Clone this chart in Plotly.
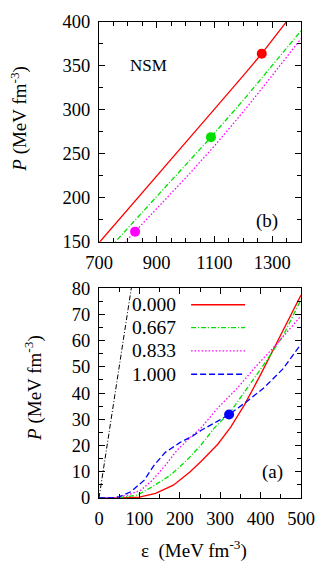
import plotly.graph_objects as go

# ---- data: panel (b) NSM, high density ----
eps_b_red = [690, 800, 900, 1000, 1100, 1200, 1264, 1350, 1400]
p_b_red = [145, 186.5, 224.5, 262.7, 300.8, 339, 364, 400.5, 422]
eps_b_green = [740, 800, 900, 1000, 1088, 1200, 1300, 1400]
p_b_green = [144, 165.5, 201, 237.5, 269, 311, 350, 390]
eps_b_mag = [780, 825, 900, 1000, 1100, 1200, 1300, 1400]
p_b_mag = [146, 161.5, 187, 222.5, 259, 298, 339, 381]
dots_b_eps = [1264, 1088, 825]
dots_b_p = [364, 269, 161.5]
dots_b_col = ["#ff0000", "#00e000", "#ff00ff"]

# ---- data: panel (a) ----
eps_a_red = [0, 50, 100, 140, 184, 225, 253, 294, 326, 360, 400, 447, 500]
p_a_red = [0, 0, 0.3, 1.8, 4.9, 9.9, 14.0, 20.5, 27.0, 35.5, 47.0, 61.0, 77.3]
eps_a_green = [0, 50, 95, 132, 176, 217, 253, 286, 326, 366, 407, 456, 500]
p_a_green = [0, 0.1, 1.1, 4.3, 8.6, 14.3, 20.3, 26.8, 33, 41.8, 50.6, 61.9, 75.6]
eps_a_mag = [0, 40, 71, 104, 132, 164, 192, 225, 253, 294, 342, 391, 439, 500]
p_a_mag = [0, 0.1, 1.1, 3, 6.8, 12.4, 18, 23, 26.8, 34.3, 41.8, 50.6, 58.5, 69.4]
eps_a_blue = [0, 30, 51, 79, 112, 136, 164, 200, 233, 253, 294, 322, 366, 407, 456, 500]
p_a_blue = [0, 0, 0.5, 2.4, 6.8, 12.4, 17.4, 21.1, 23.7, 25.8, 29.3, 31.8, 36.8, 41.8, 49.3, 58.7]
eps_causal = [0, 80]
p_causal = [0, 80]
dot_a_eps = [322]
dot_a_p = [31.8]

legend_labels = ["0.000", "0.667", "0.833", "1.000"]

RED, GREEN, MAG, BLUE = "#ff0000", "#00e000", "#ff00ff", "#0000ff"
FONT = "Liberation Serif"
DASHDOT = "5px,2px,1px,2px"
DOT = "1.5px,2px"
DASH = "6px,3px"

fig = go.Figure()

def line(x, y, color, dash, xa, ya, width=1.3):
    fig.add_trace(go.Scatter(x=x, y=y, mode="lines", xaxis=xa, yaxis=ya,
                             line=dict(color=color, dash=dash, width=width),
                             showlegend=False, hoverinfo="skip"))

# panel (b) -> x1/y1 (top)
line(eps_b_red, p_b_red, RED, "solid", "x", "y")
line(eps_b_green, p_b_green, GREEN, DASHDOT, "x", "y")
line(eps_b_mag, p_b_mag, MAG, DOT, "x", "y")
fig.add_trace(go.Scatter(x=dots_b_eps, y=dots_b_p, mode="markers", xaxis="x", yaxis="y",
                         marker=dict(color=dots_b_col, size=10), showlegend=False,
                         cliponaxis=False))

# panel (a) -> x2/y2 (bottom)
line(eps_causal, p_causal, "black", "5px,2px,1px,2px", "x2", "y2", 1.0)
line(eps_a_red, p_a_red, RED, "solid", "x2", "y2")
line(eps_a_green, p_a_green, GREEN, DASHDOT, "x2", "y2")
line(eps_a_mag, p_a_mag, MAG, DOT, "x2", "y2")
line(eps_a_blue, p_a_blue, BLUE, DASH, "x2", "y2")
fig.add_trace(go.Scatter(x=dot_a_eps, y=dot_a_p, mode="markers", xaxis="x2", yaxis="y2",
                         marker=dict(color=BLUE, size=10), showlegend=False))

axis_common = dict(showline=True, linecolor="black", linewidth=1, mirror="ticks",
                   ticks="inside", ticklen=6, tickcolor="black", showgrid=False,
                   zeroline=False, ticklabelstandoff=4,
                   tickfont=dict(family=FONT, size=18.5, color="black"))

fig.update_layout(
    width=327, height=582,
    margin=dict(l=99, r=22, t=15, b=84),
    paper_bgcolor="white", plot_bgcolor="white",
    font=dict(family=FONT, color="black"),
    xaxis=dict(domain=[0, 1], anchor="y", range=[700, 1400], tick0=700, dtick=200,
               minor=dict(dtick=50, tick0=700, ticks="inside", ticklen=4, tickcolor="black"),
               **axis_common),
    yaxis=dict(domain=[0.5383, 1.0], anchor="x", range=[150, 400], dtick=50,
               minor=dict(dtick=25, ticks="inside", ticklen=4, tickcolor="black"),
               **axis_common),
    xaxis2=dict(domain=[0, 1], anchor="y2", range=[0, 500], dtick=100,
                minor=dict(dtick=50, ticks="inside", ticklen=4, tickcolor="black"),
                **axis_common),
    yaxis2=dict(domain=[0, 0.441], anchor="x2", range=[0, 80], dtick=10,
                minor=dict(dtick=5, ticks="inside", ticklen=4, tickcolor="black"),
                **axis_common),
)

ann = []
ytitle = "<i>P</i> (MeV fm<sup>-3</sup>)"

def add_text(text, x, y, size, xanchor="center", angle=0):
    ann.append(dict(text=text, x=x, y=y, xref="paper", yref="paper", xanchor=xanchor,
                    yanchor="middle", textangle=angle, showarrow=False,
                    font=dict(family=FONT, size=size, color="black")))

add_text(ytitle, -0.398, 0.796, 19, angle=-90)
add_text(ytitle, -0.325, 0.232, 19, angle=-90)
add_text("ε  (MeV fm<sup>-3</sup>)", 0.47, -0.108, 19)
add_text("NSM", 0.243, 0.909, 17)
add_text("(b)", 0.830, 0.582, 19)
add_text("(a)", 0.859, 0.0545, 19)

leg_y = [0.406, 0.358, 0.309, 0.260]
leg_style = [(RED, "solid"), (GREEN, DASHDOT), (MAG, DOT), (BLUE, DASH)]
shapes = []
for lab, yy, (c, d) in zip(legend_labels, leg_y, leg_style):
    add_text(lab, 0.393, yy, 19.5, xanchor="right")
    shapes.append(dict(type="line", xref="paper", yref="paper", x0=0.456, x1=0.723,
                       y0=yy, y1=yy, line=dict(color=c, dash=d, width=1.3)))

fig.update_layout(annotations=ann, shapes=shapes)
fig.write_html("out.html", config={"displayModeBar": False},
               post_script="document.body.style.margin='0';document.body.style.padding='0';")
